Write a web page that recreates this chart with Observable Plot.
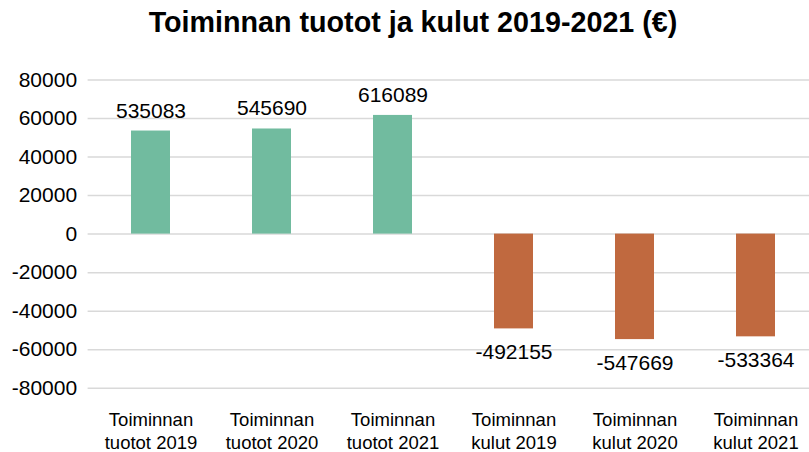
<!DOCTYPE html>
<html>
<head>
<meta charset="utf-8">
<script src="https://cdn.jsdelivr.net/npm/d3@7"></script>
<script src="https://cdn.jsdelivr.net/npm/@observablehq/plot@0.6"></script>
<style>
  html, body { margin: 0; padding: 0; background: #fff; overflow: hidden; width: 809px; height: 452px; }
  #title { height: 50px; box-sizing: border-box; padding-top: 8px; padding-left: 17px; width: 809px;
    text-align: center; font-family: "Liberation Sans", Arial, sans-serif; font-weight: bold;
    font-size: 28.7px; line-height: 28px; color: #000; white-space: nowrap; }
  #chart { width: 809px; overflow: hidden; }
  #chart svg { display: block; max-width: none !important; width: 818px; height: 402px; }
</style>
</head>
<body>
<div id="title">Toiminnan tuotot ja kulut 2019-2021 (€)</div>
<div id="chart"></div>
<script>
const categories = [
  "Toiminnan\ntuotot 2019", "Toiminnan\ntuotot 2020", "Toiminnan\ntuotot 2021",
  "Toiminnan\nkulut 2019", "Toiminnan\nkulut 2020", "Toiminnan\nkulut 2021"
];
const valueLabels = ["535083", "545690", "616089", "-492155", "-547669", "-533364"];
const barHeights = [53508, 54569, 61609, -49216, -54767, -53336];
const groups = ["tuotot", "tuotot", "tuotot", "kulut", "kulut", "kulut"];
const yTicks = [-80000, -60000, -40000, -20000, 0, 20000, 40000, 60000, 80000];

const data = categories.map((c, i) => ({c, v: barHeights[i], label: valueLabels[i], g: groups[i]}));

const chart = Plot.plot({
  width: 818,
  height: 402,
  marginLeft: 87.6,
  marginRight: 0,
  marginTop: 29.5,
  marginBottom: 64.3,
  style: {fontFamily: "Liberation Sans, Arial, sans-serif", fontSize: "21px", color: "#000", background: "#fff"},
  x: {domain: categories, paddingInner: 0.68, paddingOuter: 0.34, axis: null},
  y: {domain: [-80000, 80000], ticks: yTicks, tickFormat: d => String(d), tickSize: 0, tickPadding: 11, label: null},
  color: {domain: ["tuotot", "kulut"], range: ["#71BB9F", "#C0693F"]},
  marks: [
    Plot.ruleY(yTicks, {stroke: "#d9d9d9", strokeWidth: 1.5}),
    Plot.barY(data, {x: "c", y: "v", fill: "g"}),
    Plot.text(data.filter(d => d.v >= 0), {x: "c", y: "v", text: "label", lineAnchor: "bottom", dy: -13.5, fontSize: 21, fill: "#000"}),
    Plot.text(data.filter(d => d.v < 0), {x: "c", y: "v", text: "label", lineAnchor: "bottom", dy: 30, fontSize: 21, fill: "#000"}),
    Plot.text(categories, {x: d => d, text: d => d, frameAnchor: "bottom", lineAnchor: "top", dy: 20.5, lineHeight: 1.28, fontSize: 18.5, fill: "#000"})
  ]
});
document.getElementById("chart").appendChild(chart);
</script>
</body>
</html>
